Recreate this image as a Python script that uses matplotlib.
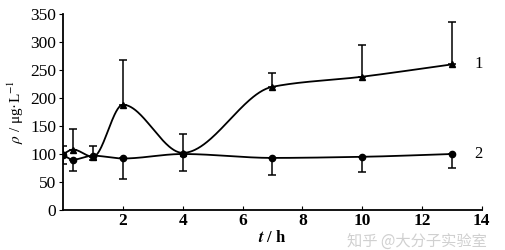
import matplotlib.pyplot as plt
import numpy as np

t = [0, 0.33, 1, 2, 4, 7, 10, 13]
rho1 = [100, 108, 95, 188, 102, 220, 238, 260]
err1 = [15, 37, 20, 80, 33, 25, 57, 75]
rho2 = [98, 90, 97, 92, 100, 93, 95, 100]
err2 = [16, 20, 8, 37, 30, 30, 27, 25]
xticks = [2, 4, 6, 8, 10, 12, 14]
yticks = [0, 50, 100, 150, 200, 250, 300, 350]


def pchip(x, y, n=500):
    # shape-preserving cubic for the smooth connecting line
    x = np.asarray(x, float)
    y = np.asarray(y, float)
    h = np.diff(x)
    d = np.diff(y) / h
    k = len(x)
    m = np.zeros(k)
    for i in range(1, k - 1):
        if d[i - 1] * d[i] > 0:
            w1 = 2 * h[i] + h[i - 1]
            w2 = h[i] + 2 * h[i - 1]
            m[i] = (w1 + w2) / (w1 / d[i - 1] + w2 / d[i])
    m[0] = d[0]
    m[-1] = d[-1]
    xs = np.linspace(x[0], x[-1], n)
    idx = np.clip(np.searchsorted(x, xs) - 1, 0, k - 2)
    hh = h[idx]
    s = (xs - x[idx]) / hh
    h00 = 2 * s**3 - 3 * s**2 + 1
    h10 = s**3 - 2 * s**2 + s
    h01 = -2 * s**3 + 3 * s**2
    h11 = s**3 - s**2
    ys = h00 * y[idx] + h10 * hh * m[idx] + h01 * y[idx + 1] + h11 * hh * m[idx + 1]
    return xs, ys


plt.rcParams['font.family'] = ['Liberation Serif', 'DejaVu Serif']
plt.rcParams['mathtext.fontset'] = 'stix'

fig = plt.figure(figsize=(5.05, 2.5), dpi=100)
ax = fig.add_axes([0.125, 0.16, 0.829, 0.784])

xs, ys = pchip(t, rho1)
ax.plot(xs, ys, color='black', lw=1.3)
ax.errorbar(t, rho1, yerr=[np.zeros(len(err1)), err1], fmt='^', color='black',
            ms=5, capsize=3, elinewidth=1.1, capthick=1.1)

xs, ys = pchip(t, rho2)
ax.plot(xs, ys, color='black', lw=1.3)
ax.errorbar(t, rho2, yerr=[err2, np.zeros(len(err2))], fmt='o', color='black',
            ms=4.5, capsize=3, elinewidth=1.1, capthick=1.1)

ax.text(13.75, rho1[-1], '1', fontsize=12, va='center')
ax.text(13.75, rho2[-1], '2', fontsize=12, va='center')

ax.set_xlim(0, 14)
ax.set_ylim(0, 350)
ax.set_xticks(xticks)
ax.set_yticks(yticks)
ax.spines['top'].set_visible(False)
ax.spines['right'].set_visible(False)
ax.spines['left'].set_linewidth(1.3)
ax.spines['bottom'].set_linewidth(1.3)
ax.tick_params(axis='x', direction='in', length=3, labelsize=12.5, pad=2)
ax.tick_params(axis='y', direction='out', length=3, labelsize=12.5, pad=2)
for lab in ax.get_xticklabels():
    lab.set_fontweight('bold')

ax.set_xlabel(r'$\mathbfit{t}$ / h', fontsize=12, fontweight='bold', labelpad=1)
ax.set_ylabel(r'$\rho$ / μg·L$^{-1}$', fontsize=11, labelpad=3)

fig.text(0.965, 0.0, '知乎 @大分子实验室', family=['Noto Sans CJK SC', 'DejaVu Sans'],
         fontsize=11, color='#d0d0d0', ha='right', va='bottom')

fig.savefig('out.png', dpi=100)
